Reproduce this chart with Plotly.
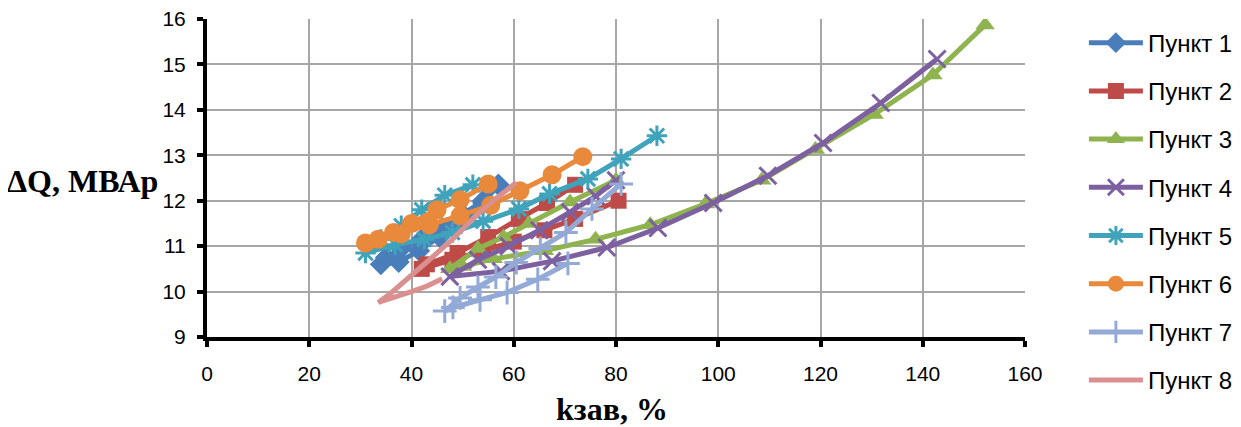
import plotly.graph_objects as go

names = ["Пункт 1", "Пункт 2", "Пункт 3", "Пункт 4", "Пункт 5", "Пункт 6", "Пункт 7", "Пункт 8"]

# Пункт 1
x1 = [57.0, 54.0, 50.0, 45.5, 41.5, 37.5, 34.0, 35.0, 38.0, 42.0, 46.0, 50.0, 54.0, 57.0]
y1 = [12.35, 11.95, 11.55, 11.2, 10.9, 10.65, 10.6, 10.75, 10.95, 11.15, 11.4, 11.7, 12.0, 12.35]
# Пункт 2
x2 = [72.0, 66.5, 61.0, 55.0, 49.0, 43.0, 42.0, 48.0, 54.0, 60.0, 66.0, 72.0, 80.5]
y2 = [12.35, 11.95, 11.6, 11.2, 10.85, 10.6, 10.5, 10.7, 10.9, 11.1, 11.35, 11.6, 12.0]
# Пункт 3
x3 = [80.0, 71.0, 63.0, 58.0, 53.0, 47.5, 50.0, 56.0, 66.0, 76.0, 86.7, 97.5, 108.5, 119.0, 130.5, 142.0, 152.2]
y3 = [12.45, 11.97, 11.5, 11.2, 10.95, 10.5, 10.55, 10.72, 10.9, 11.15, 11.47, 11.93, 12.45, 13.13, 13.9, 14.77, 15.87]
# Пункт 4
x4 = [80.0, 76.0, 71.0, 65.0, 59.0, 53.0, 47.5, 57.5, 67.5, 78.2, 88.2, 99.0, 109.7, 120.5, 131.8, 142.8]
y4 = [12.45, 12.1, 11.75, 11.35, 11.0, 10.7, 10.33, 10.45, 10.67, 10.97, 11.4, 11.95, 12.55, 13.27, 14.15, 15.12]
# Пункт 5
x5 = [52.0, 46.5, 42.0, 38.0, 34.0, 31.0, 36.8, 42.5, 48.0, 54.0, 61.0, 67.0, 74.5, 81.0, 88.0]
y5 = [12.35, 12.12, 11.8, 11.45, 11.15, 10.85, 11.03, 11.15, 11.3, 11.55, 11.82, 12.15, 12.48, 12.92, 13.43]
# Пункт 6
x6 = [55.0, 49.5, 45.0, 40.0, 36.5, 33.5, 31.0, 38.0, 43.5, 49.5, 55.5, 61.2, 67.5, 73.5]
y6 = [12.37, 12.02, 11.8, 11.5, 11.3, 11.15, 11.07, 11.27, 11.47, 11.67, 11.9, 12.22, 12.57, 12.97]
# Пункт 7
x7 = [70.6, 64.7, 58.7, 53.4, 48.1, 46.5, 49.5, 53.0, 56.5, 60.5, 65.2, 70.2, 75.3, 81.0]
y7 = [10.62, 10.27, 9.98, 9.82, 9.65, 9.57, 9.86, 10.1, 10.32, 10.64, 10.95, 11.3, 11.82, 12.37]
# Пункт 8
x8 = [46.0, 43.0, 40.0, 36.0, 33.5, 36.0, 40.0, 44.0, 48.0, 52.0, 56.0, 60.5]
y8 = [10.28, 10.12, 10.0, 9.85, 9.76, 9.97, 10.35, 10.75, 11.15, 11.6, 12.0, 12.4]

xs = [x1, x2, x3, x4, x5, x6, x7, x8]
ys = [y1, y2, y3, y4, y5, y6, y7, y8]

colors = ["#4A7EBB", "#BE4B48", "#8FB34F", "#7D60A0", "#3FA3BC", "#E8893B", "#93AAD6", "#D9908F"]
symbols = ["diamond", "square", "triangle-up", "x-thin", "asterisk", "circle", "cross-thin", None]
sizes = [17, 16, 17, 17, 17, 19, 17, 0]

x_ticks = [0, 20, 40, 60, 80, 100, 120, 140, 160]
y_ticks = [9, 10, 11, 12, 13, 14, 15, 16]

fig = go.Figure()
for i in range(8):
    marker = dict(color=colors[i], size=sizes[i])
    if symbols[i] is None:
        mode = "lines"
    else:
        mode = "lines+markers"
        marker["symbol"] = symbols[i]
        if symbols[i] in ("x-thin", "asterisk", "cross-thin"):
            marker["line"] = dict(color=colors[i], width=3)
    fig.add_trace(go.Scatter(
        x=xs[i], y=ys[i], name=names[i], mode=mode,
        line=dict(color=colors[i], width=5),
        marker=marker, legendgroup=f"g{i}",
    ))

axis_font = dict(family="Liberation Sans, Arial, sans-serif", size=21, color="#000000")
fig.update_layout(
    width=1233, height=419,
    margin=dict(l=199, r=216, t=11, b=90, autoexpand=False),
    paper_bgcolor="white", plot_bgcolor="white",
    showlegend=True,
    legend=dict(
        x=1.072, y=0.995, xanchor="left", yanchor="top",
        font=dict(family="Liberation Sans, Arial, sans-serif", size=24, color="#000000"),
        tracegroupgap=14, itemwidth=54, traceorder="grouped",
        bgcolor="rgba(0,0,0,0)", maxheight=415,
    ),
    xaxis=dict(
        range=[0, 160], tickvals=x_ticks, ticktext=[str(v) for v in x_ticks],
        showgrid=True, gridcolor="#A6A6A6", gridwidth=1.5,
        showline=True, linecolor="black", linewidth=4,
        ticks="outside", ticklen=6, tickwidth=4, tickcolor="black",
        tickfont=axis_font, zeroline=False, ticklabelstandoff=9,
        ticklabeloverflow="allow",
    ),
    yaxis=dict(
        range=[9, 16], tickvals=y_ticks, ticktext=[str(v) for v in y_ticks],
        showgrid=True, gridcolor="#A6A6A6", gridwidth=1.5,
        showline=True, linecolor="black", linewidth=4,
        ticks="outside", ticklen=6, tickwidth=4, tickcolor="black",
        tickfont=axis_font, zeroline=False, ticklabelstandoff=7,
        ticklabeloverflow="allow",
    ),
    annotations=[
        dict(text="<b>ΔQ, МВАр</b>", xref="paper", yref="paper", x=-0.152, y=0.49,
             xanchor="center", yanchor="middle", showarrow=False,
             font=dict(family="Liberation Serif, Times New Roman, serif", size=32, color="black")),
        dict(text="<b>kзав, %</b>", xref="paper", yref="paper", x=0.495, y=-0.225,
             xanchor="center", yanchor="middle", showarrow=False,
             font=dict(family="Liberation Serif, Times New Roman, serif", size=32, color="black")),
    ],
)

fig.write_html("out.html")
